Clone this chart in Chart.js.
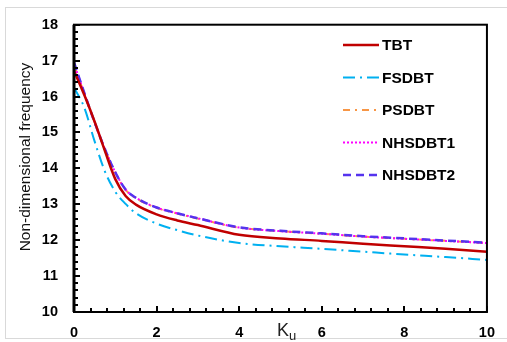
<!DOCTYPE html>
<html>
<head>
<meta charset="utf-8">
<script src="https://cdn.jsdelivr.net/npm/chart.js@4"></script>
<style>
  html, body { margin: 0; padding: 0; background: #fff; }
  #wrap { width: 507px; height: 342px; position: relative; }
</style>
</head>
<body>
<div id="wrap"><canvas id="freqChart" width="507" height="342"></canvas></div>
<script>
// values
const kValues = [0, 0.25, 0.5, 0.75, 1, 1.25, 1.5, 2, 2.5, 3, 4, 5, 6, 7, 8, 9, 10];
const tbt     = [16.72, 16.04, 15.30, 14.48, 13.70, 13.23, 12.99, 12.72, 12.55, 12.42, 12.15, 12.05, 11.98, 11.90, 11.83, 11.76, 11.68];
const fsdbt   = [16.25, 15.69, 14.75, 13.91, 13.35, 13.01, 12.75, 12.46, 12.28, 12.13, 11.92, 11.83, 11.76, 11.68, 11.60, 11.53, 11.45];
const psdbt   = [16.88, 16.08, 15.27, 14.52, 13.88, 13.40, 13.17, 12.90, 12.74, 12.60, 12.35, 12.25, 12.18, 12.10, 12.04, 11.98, 11.92];
const nhsdbt1 = [16.92, 16.09, 15.28, 14.53, 13.89, 13.41, 13.18, 12.91, 12.75, 12.61, 12.35, 12.25, 12.18, 12.10, 12.04, 11.98, 11.92];
const nhsdbt2 = [16.95, 16.10, 15.28, 14.53, 13.89, 13.41, 13.18, 12.91, 12.75, 12.61, 12.36, 12.26, 12.19, 12.11, 12.05, 11.99, 11.93];
const xTicks = [0, 2, 4, 6, 8, 10];
const yTicks = [10, 11, 12, 13, 14, 15, 16, 17, 18];

function pts(ys) {
  return kValues.map((k, i) => ({ x: k, y: ys[i] }));
}

const series = [
  { label: "TBT",     data: tbt,     color: "#C00000", dash: [],            width: 2.5, order: 0 },
  { label: "FSDBT",   data: fsdbt,   color: "#00B0F0", dash: [12, 5, 2, 5], width: 2,   order: 4 },
  { label: "PSDBT",   data: psdbt,   color: "#F79646", dash: [7, 5, 2, 5],  width: 2,   order: 3 },
  { label: "NHSDBT1", data: nhsdbt1, color: "#FF00FF", dash: [2, 2],        width: 2,   order: 2 },
  { label: "NHSDBT2", data: nhsdbt2, color: "#5533EE", dash: [8, 5],        width: 2.5, order: 1 }
];

// frame, inward ticks, legend and axis titles
const decorPlugin = {
  id: "decor",
  beforeDraw(chart) {
    const c = chart.ctx;
    c.save();
    c.strokeStyle = "#d9d9d9";
    c.lineWidth = 1;
    c.strokeRect(5.5, 7.5, 520, 331);
    c.restore();
  },
  afterDraw(chart) {
    const c = chart.ctx;
    const a = chart.chartArea;
    const xs = chart.scales.x, ys = chart.scales.y;
    c.save();
    c.strokeStyle = "#000";
    c.lineWidth = 2;
    c.strokeRect(a.left, a.top, a.right - a.left, a.bottom - a.top);
    c.lineWidth = 3;
    c.beginPath(); c.moveTo(a.left, a.top); c.lineTo(a.left, a.bottom); c.stroke();

    // x ticks every 0.4
    c.lineWidth = 2;
    for (let i = 0; i <= 25; i++) {
      const v = i * 0.4;
      const px = Math.round(xs.getPixelForValue(v));
      const major = i % 5 === 0;
      c.beginPath();
      c.moveTo(px, a.bottom);
      c.lineTo(px, a.bottom - (major ? 6 : 4));
      c.stroke();
    }
    // y ticks every 0.2
    for (let i = 0; i <= 40; i++) {
      const v = 10 + i * 0.2;
      const py = Math.round(ys.getPixelForValue(v));
      const major = i % 5 === 0;
      c.beginPath();
      c.moveTo(a.left, py);
      c.lineTo(a.left + (major ? 6 : 4), py);
      c.stroke();
    }

    // legend
    const lx = 343, ly = 45, gap = 32.5;
    c.font = "bold 15.5px 'Liberation Sans', Arial, sans-serif";
    c.textBaseline = "middle";
    series.forEach((s, i) => {
      const y = ly + i * gap;
      c.strokeStyle = s.color;
      c.lineWidth = s.width;
      c.setLineDash(s.dash);
      c.beginPath(); c.moveTo(lx, y); c.lineTo(lx + 36, y); c.stroke();
      c.setLineDash([]);
      c.fillStyle = "#000";
      c.fillText(s.label, lx + 39, y + 1);
    });

    // y title
    c.save();
    c.translate(26, 157);
    c.rotate(-Math.PI / 2);
    c.textAlign = "center";
    c.textBaseline = "middle";
    c.fillStyle = "#111";
    c.font = "15.5px 'Liberation Sans', Arial, sans-serif";
    c.fillText("Non-dimensional frequency", 0, 0);
    c.restore();

    // K_u axis label
    c.fillStyle = "#222";
    c.font = "18px 'Liberation Sans', Arial, sans-serif";
    c.textBaseline = "alphabetic";
    c.fillText("K", 277, 336);
    c.font = "13px 'Liberation Sans', Arial, sans-serif";
    c.fillText("u", 289, 340);
    c.restore();
  }
};

const ctx = document.getElementById("freqChart").getContext("2d");
new Chart(ctx, {
  type: "line",
  data: {
    datasets: series.map(s => ({
      label: s.label,
      data: pts(s.data),
      borderColor: s.color,
      borderDash: s.dash,
      borderWidth: s.width,
      pointRadius: 0,
      fill: false,
      cubicInterpolationMode: "monotone",
      order: s.order
    }))
  },
  options: {
    responsive: false,
    maintainAspectRatio: false,
    animation: false,
    layout: { padding: { top: 17, right: 12, left: 0, bottom: 0 } },
    plugins: {
      legend: { display: false },
      tooltip: { enabled: false }
    },
    scales: {
      x: {
        type: "linear",
        min: 0,
        max: 10,
        afterBuildTicks: s => { s.ticks = xTicks.map(v => ({ value: v })); },
        afterFit: s => { s.height = 30; },
        grid: { display: false, drawTicks: false },
        border: { display: false },
        ticks: {
          padding: 12,
          color: "#000",
          font: { family: "'Liberation Sans', Arial, sans-serif", size: 14.5, weight: "bold" }
        }
      },
      y: {
        min: 10,
        max: 18,
        afterBuildTicks: s => { s.ticks = yTicks.map(v => ({ value: v })); },
        afterFit: s => { s.width = 74; },
        grid: { display: false, drawTicks: false },
        border: { display: false },
        ticks: {
          padding: 16,
          color: "#000",
          font: { family: "'Liberation Sans', Arial, sans-serif", size: 14.5, weight: "bold" }
        }
      }
    }
  },
  plugins: [decorPlugin]
});
</script>
</body>
</html>
